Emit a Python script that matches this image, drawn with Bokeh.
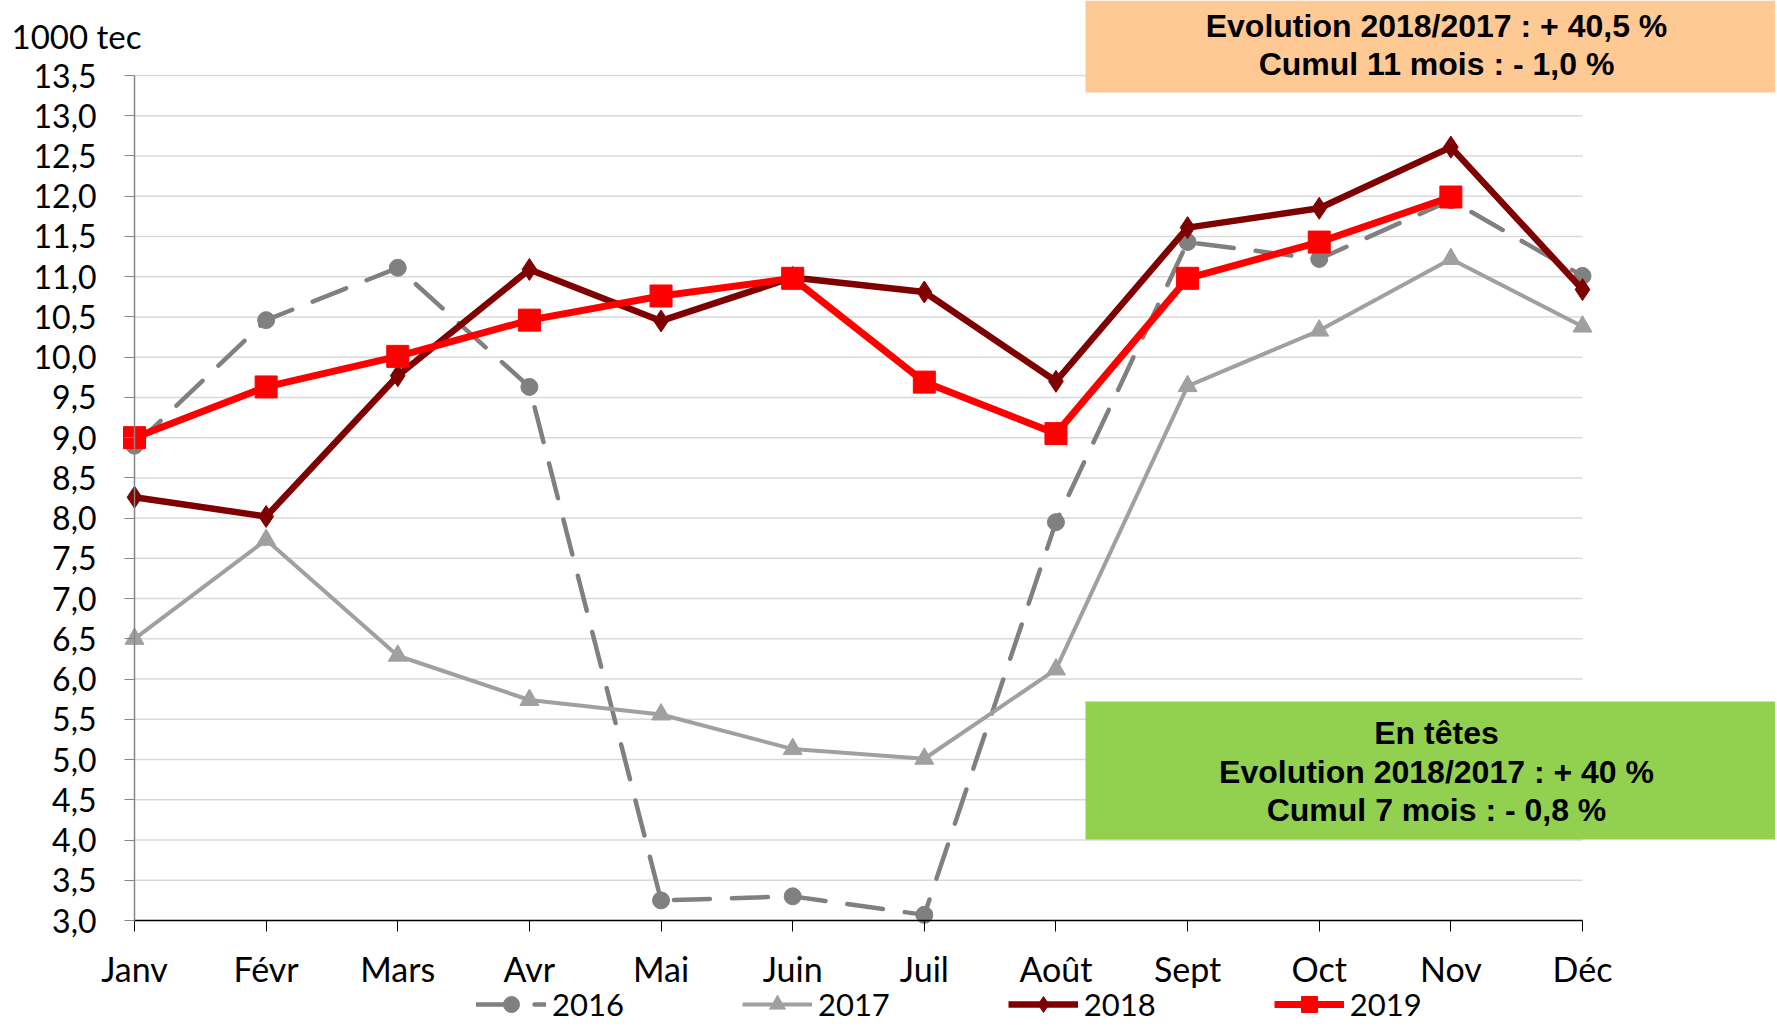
from bokeh.plotting import figure
from bokeh.models import Range1d, FixedTicker, Legend, LegendItem, BoxAnnotation, Label
from bokeh.embed import file_html
from bokeh.resources import INLINE

months = ["Janv", "Févr", "Mars", "Avr", "Mai", "Juin", "Juil", "Août", "Sept", "Oct", "Nov", "Déc"]
y2016 = [8.90, 10.46, 11.11, 9.63, 3.25, 3.30, 3.07, 7.95, 11.43, 11.22, 11.95, 11.01]
y2017 = [6.50, 7.73, 6.29, 5.74, 5.56, 5.13, 5.01, 6.12, 9.64, 10.33, 11.22, 10.38]
y2018 = [8.26, 8.02, 9.77, 11.09, 10.45, 10.99, 10.81, 9.70, 11.61, 11.85, 12.61, 10.84]
y2019 = [9.00, 9.63, 10.01, 10.46, 10.76, 10.98, 9.69, 9.05, 10.98, 11.43, 11.99]
ytick_labels = ["3,0", "3,5", "4,0", "4,5", "5,0", "5,5", "6,0", "6,5", "7,0", "7,5", "8,0",
                "8,5", "9,0", "9,5", "10,0", "10,5", "11,0", "11,5", "12,0", "12,5", "13,0", "13,5"]
unit_label = "1000 tec"
box1_lines = ["Evolution 2018/2017 : + 40,5 %", "Cumul 11 mois : - 1,0 %"]
box2_lines = ["En têtes", "Evolution 2018/2017 : + 40 %", "Cumul 7 mois : - 0,8 %"]

FONT = "Lato"
BOXFONT = "Liberation Sans"
ytick_values = [float(s.replace(",", ".")) for s in ytick_labels]
xs = list(range(len(months)))

# canvas layout (pixels): plot area from x=134..1582, y=75..920
W, H = 1775, 1027
PL, PR, PT, PB = 134, 1582, 75, 920
x0, x1 = xs[0], xs[-1]
y0, y1 = ytick_values[0], ytick_values[-1]
kx = (PR - PL) / (x1 - x0)
ky = (PB - PT) / (y1 - y0)
x_range = Range1d(x0 - PL / kx, x1 + (W - PR) / kx)
y_range = Range1d(y0 - (H - PB) / ky, y1 + PT / ky)

p = figure(width=W, height=H, x_range=x_range, y_range=y_range,
           output_backend="svg", toolbar_location=None,
           min_border=0, min_border_left=0, min_border_right=0, min_border_top=0, min_border_bottom=0)
p.outline_line_color = None
p.grid.visible = False

# axes
p.yaxis.fixed_location = x0
p.yaxis.bounds = (y0, y1)
p.yaxis.ticker = FixedTicker(ticks=ytick_values)
p.yaxis.major_label_overrides = {v: s for v, s in zip(ytick_values, ytick_labels)}
p.yaxis.major_label_text_font = FONT
p.yaxis.major_label_text_font_size = "32px"
p.yaxis.major_label_text_color = "#000000"
p.yaxis.axis_line_color = "#868686"
p.yaxis.axis_line_width = 1.5
p.yaxis.major_tick_line_color = "#868686"
p.yaxis.major_tick_out = 10
p.yaxis.major_tick_in = 0
p.yaxis.minor_tick_line_color = None
p.yaxis.major_label_standoff = 28

p.xaxis.fixed_location = y0
p.xaxis.bounds = (x0, x1)
p.xaxis.ticker = FixedTicker(ticks=xs)
p.xaxis.major_label_overrides = {x: m for x, m in zip(xs, months)}
p.xaxis.major_label_text_font = FONT
p.xaxis.major_label_text_font_size = "34px"
p.xaxis.major_label_text_color = "#000000"
p.xaxis.axis_line_color = "#000000"
p.xaxis.axis_line_width = 1.5
p.xaxis.major_tick_line_color = "#000000"
p.xaxis.major_tick_out = 11
p.xaxis.major_tick_in = 0
p.xaxis.minor_tick_line_color = None
p.xaxis.major_label_standoff = 16

# horizontal gridlines limited to the plot area
gy = ytick_values[1:]
p.segment(x0=[x0] * len(gy), x1=[x1] * len(gy), y0=gy, y1=gy,
          line_color="#D9D9D9", line_width=1.5, level="underlay")

# series
l16 = p.line(xs, y2016, line_color="#808080", line_width=4.5, line_dash="36 22", line_cap="round")
s16 = p.scatter(xs, y2016, marker="circle", size=17, fill_color="#808080", line_color="#808080")
l17 = p.line(xs, y2017, line_color="#A0A0A0", line_width=4)
s17 = p.scatter(xs, y2017, marker="triangle", size=19, fill_color="#A0A0A0", line_color="#A0A0A0")
l18 = p.line(xs, y2018, line_color="#7F0000", line_width=6.5)
s18 = p.scatter(xs, y2018, marker="diamond", size=22, fill_color="#7F0000", line_color="#7F0000")
x19 = xs[:len(y2019)]
l19 = p.line(x19, y2019, line_color="#FF0000", line_width=7)
s19 = p.scatter(x19, y2019, marker="square", size=22, fill_color="#FF0000", line_color="#FF0000")

legend = Legend(items=[LegendItem(label="2016", renderers=[l16, s16]),
                       LegendItem(label="2017", renderers=[l17, s17]),
                       LegendItem(label="2018", renderers=[l18, s18]),
                       LegendItem(label="2019", renderers=[l19, s19])],
                orientation="horizontal", location=(476, 3),
                glyph_width=70, glyph_height=40, label_standoff=6, spacing=118,
                padding=0, margin=0, border_line_color=None, background_fill_alpha=0,
                label_text_font=FONT, label_text_font_size="31px", label_text_color="#000000")
p.add_layout(legend)

# annotation boxes (screen units: x from left, y from bottom of canvas)
def sy(canvas_y):
    return H - canvas_y

p.add_layout(BoxAnnotation(left=1085, right=W, bottom=sy(92), top=sy(0),
                           left_units="screen", right_units="screen", bottom_units="screen", top_units="screen",
                           fill_color="#FFC994", fill_alpha=1, line_color=None))
p.add_layout(BoxAnnotation(left=1085, right=W, bottom=sy(839), top=sy(701),
                           left_units="screen", right_units="screen", bottom_units="screen", top_units="screen",
                           fill_color="#92D050", fill_alpha=1, line_color=None))

for txt, cy in zip(box1_lines, [25, 63]):
    p.add_layout(Label(x=1436, y=sy(cy), x_units="screen", y_units="screen", text=txt,
                       text_align="center", text_baseline="middle", text_font=BOXFONT,
                       text_font_style="bold", text_font_size="32px", text_color="#000000"))
for txt, cy in zip(box2_lines, [732, 771, 809]):
    p.add_layout(Label(x=1436, y=sy(cy), x_units="screen", y_units="screen", text=txt,
                       text_align="center", text_baseline="middle", text_font=BOXFONT,
                       text_font_style="bold", text_font_size="32px", text_color="#000000"))

p.add_layout(Label(x=11, y=sy(35), x_units="screen", y_units="screen", text=unit_label,
                   text_align="left", text_baseline="middle", text_font=FONT,
                   text_font_size="33px", text_color="#000000"))

open("out.html", "w").write(file_html(p, INLINE))
